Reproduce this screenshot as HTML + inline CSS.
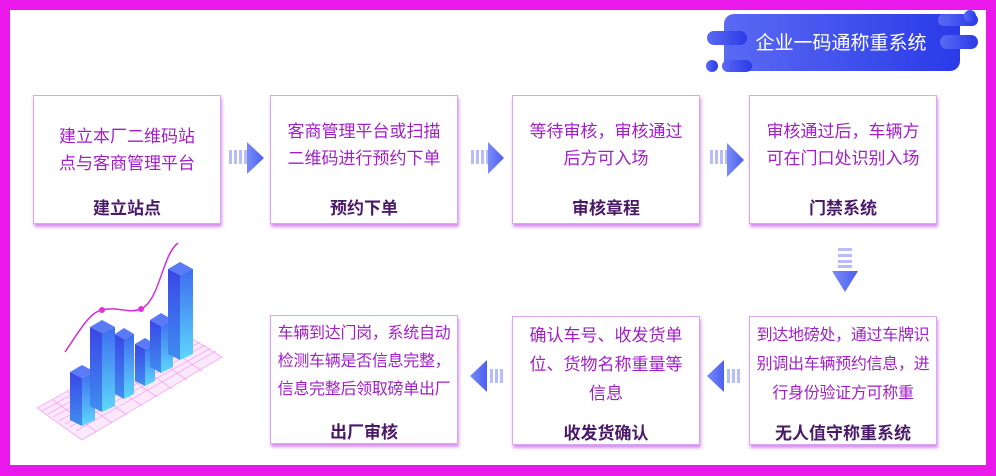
<!DOCTYPE html>
<html><head><meta charset="utf-8"><style>
html,body{margin:0;width:996px;height:476px;overflow:hidden}
body{background:#ea18ea;position:relative;font-family:"Liberation Sans","Noto Sans CJK SC",sans-serif}
#w{position:absolute;left:10px;top:10px;width:976px;height:455px;background:#fff}
.b{position:absolute;width:188px;height:129px;border:1px solid #d9a6f0;box-shadow:1px 3px 3px #d88ef0;background:#fff;text-align:center;box-sizing:border-box}
.d{color:#a21fc8;font-size:17px;line-height:27px;position:absolute;left:-4px;right:-4px;white-space:nowrap}
.s{font-size:16px;letter-spacing:-0.3px}
.t{color:#4a1a68;font-size:17px;font-weight:bold;position:absolute;left:0;right:0;white-space:nowrap}
svg{position:absolute;left:0;top:0}
</style></head><body>
<div id="w"></div>
<svg width="996" height="476">
<defs>
<linearGradient id="bn" x1="0" x2="1"><stop offset="0" stop-color="#5a6af2"/><stop offset="1" stop-color="#2a3ae8"/></linearGradient>
<linearGradient id="ar" x1="0" x2="1"><stop offset="0" stop-color="#7a8cf7"/><stop offset="1" stop-color="#4a5ef0"/></linearGradient>
<linearGradient id="lf" x1="0" y1="0" x2="0" y2="1"><stop offset="0" stop-color="#3a46e6"/><stop offset="1" stop-color="#3f8ef0"/></linearGradient>
<linearGradient id="rf" x1="0" y1="0" x2="0" y2="1"><stop offset="0" stop-color="#3e6cf0"/><stop offset="1" stop-color="#5ed8fb"/></linearGradient>
</defs>
<rect x="724" y="14" width="236" height="57" rx="10" fill="url(#bn)"/>
<rect x="707" y="31" width="40" height="14" rx="7" fill="url(#bn)"/>
<rect x="722" y="60" width="30" height="12" rx="6" fill="url(#bn)"/>
<circle cx="712" cy="66" r="6" fill="url(#bn)"/>
<rect x="938" y="14" width="40" height="12" rx="6" fill="url(#bn)"/>
<circle cx="970" cy="16" r="6" fill="url(#bn)"/>
<rect x="940" y="35" width="38" height="14" rx="7" fill="url(#bn)"/>
<text x="841" y="49" fill="#fff" font-size="19" text-anchor="middle" font-family="Liberation Sans,Noto Sans CJK SC,sans-serif">企业一码通称重系统</text>
<g fill="#b6bdf8"><rect x="229" y="150" width="3" height="14"/><rect x="234" y="150" width="3" height="14"/><rect x="239" y="150" width="3" height="14"/><rect x="244" y="150" width="3" height="14"/></g><polygon points="247,142 264,158 247,174" fill="url(#ar)"/>
<g fill="#b6bdf8"><rect x="471" y="150" width="3" height="14"/><rect x="476" y="150" width="3" height="14"/><rect x="481" y="150" width="3" height="14"/><rect x="486" y="150" width="3" height="14"/></g><polygon points="488,142 504,158 488,174" fill="url(#ar)"/>
<g fill="#b6bdf8"><rect x="710" y="150" width="3" height="14"/><rect x="715" y="150" width="3" height="14"/><rect x="720" y="150" width="3" height="14"/><rect x="725" y="150" width="3" height="14"/></g><polygon points="727,143 744,160 727,177" fill="url(#ar)"/>
<g fill="#b6bdf8"><rect x="838" y="248" width="14" height="3"/><rect x="838" y="254" width="14" height="3"/><rect x="838" y="260" width="14" height="3"/><rect x="838" y="265" width="14" height="3"/></g><polygon points="832,271 858,271 845,292" fill="url(#ar)"/>
<polygon points="707,376 724,360 724,392" fill="url(#ar)"/><g fill="#b6bdf8"><rect x="727" y="369" width="3" height="14"/><rect x="732" y="369" width="3" height="14"/><rect x="737" y="369" width="3" height="14"/></g>
<polygon points="470,376 487,360 487,392" fill="url(#ar)"/><g fill="#b6bdf8"><rect x="490" y="369" width="3" height="14"/><rect x="495" y="369" width="3" height="14"/><rect x="500" y="369" width="3" height="14"/></g>
<g stroke="#f4a8f4" stroke-width="0.8" fill="none">
<polygon points="37,408 178,330 222,357 82,440" fill="#fbe8fb"/>
<path d="M42,411L183,333M48,414L189,336M53,417L194,339M59,421L200,342M65,424L205,345M70,427L211,348M76,431L216,351M53,400L97,432M68,392L112,423M83,384L127,415M98,375L142,406M113,367L157,397M128,358L172,389M143,350L187,380M158,341L202,371"/>
</g>
<path d="M65,352C80,330 90,312 102,310C118,306 128,314 141,309C160,300 162,255 178,243" stroke="#d02ed8" stroke-width="1.5" fill="none"/>
<circle cx="102" cy="310" r="3" fill="#e030e0"/><circle cx="141" cy="309" r="3" fill="#e030e0"/>
<g>
<polygon points="70,372 82,378 82,426 70,420" fill="url(#lf)"/><polygon points="82,378 95,372 95,420 82,426" fill="url(#rf)"/><polygon points="70,372 82,365 95,372 82,378" fill="#5b7af5"/>
<polygon points="90,327 102,333 102,412 90,406" fill="url(#lf)"/><polygon points="102,333 115,327 115,406 102,412" fill="url(#rf)"/><polygon points="90,327 102,320 115,327 102,333" fill="#5b7af5"/>
<polygon points="115,334 124,339 124,399 115,394" fill="url(#lf)"/><polygon points="124,339 134,334 134,394 124,399" fill="url(#rf)"/><polygon points="115,334 124,328 134,334 124,339" fill="#5b7af5"/>
<polygon points="135,344 145,349 145,386 135,381" fill="url(#lf)"/><polygon points="145,349 155,344 155,381 145,386" fill="url(#rf)"/><polygon points="135,344 145,338 155,344 145,349" fill="#5b7af5"/>
<polygon points="150,320 161,326 161,373 150,367" fill="url(#lf)"/><polygon points="161,326 173,320 173,367 161,373" fill="url(#rf)"/><polygon points="150,320 161,313 173,320 161,326" fill="#5b7af5"/>
<polygon points="168,269 180,275 180,360 168,354" fill="url(#lf)"/><polygon points="180,275 193,269 193,354 180,360" fill="url(#rf)"/><polygon points="168,269 180,262 193,269 180,275" fill="#5b7af5"/>
</g>
</svg>
<div class="b" style="left:33px;top:95px"><div class="d" style="top:27px">建立本厂二维码站<br>点与客商管理平台</div><div class="t" style="top:98px">建立站点</div></div>
<div class="b" style="left:270px;top:95px"><div class="d" style="top:22px">客商管理平台或扫描<br>二维码进行预约下单</div><div class="t" style="top:98px">预约下单</div></div>
<div class="b" style="left:512px;top:95px"><div class="d" style="top:22px">等待审核，审核通过<br>后方可入场</div><div class="t" style="top:98px">审核章程</div></div>
<div class="b" style="left:749px;top:95px"><div class="d" style="top:22px">审核通过后，车辆方<br>可在门口处识别入场</div><div class="t" style="top:98px">门禁系统</div></div>
<div class="b" style="left:749px;top:316px"><div class="d s" style="top:4px;line-height:29px">到达地磅处，通过车牌识<br>别调出车辆预约信息，进<br>行身份验证方可称重</div><div class="t" style="top:102px">无人值守称重系统</div></div>
<div class="b" style="left:512px;top:316px"><div class="d" style="top:4px;line-height:29px">确认车号、收发货单<br>位、货物名称重量等<br>信息</div><div class="t" style="top:102px">收发货确认</div></div>
<div class="b" style="left:270px;top:315px"><div class="d s" style="top:4px;line-height:28px">车辆到达门岗，系统自动<br>检测车辆是否信息完整，<br>信息完整后领取磅单出厂</div><div class="t" style="top:102px">出厂审核</div></div>
</body></html>
